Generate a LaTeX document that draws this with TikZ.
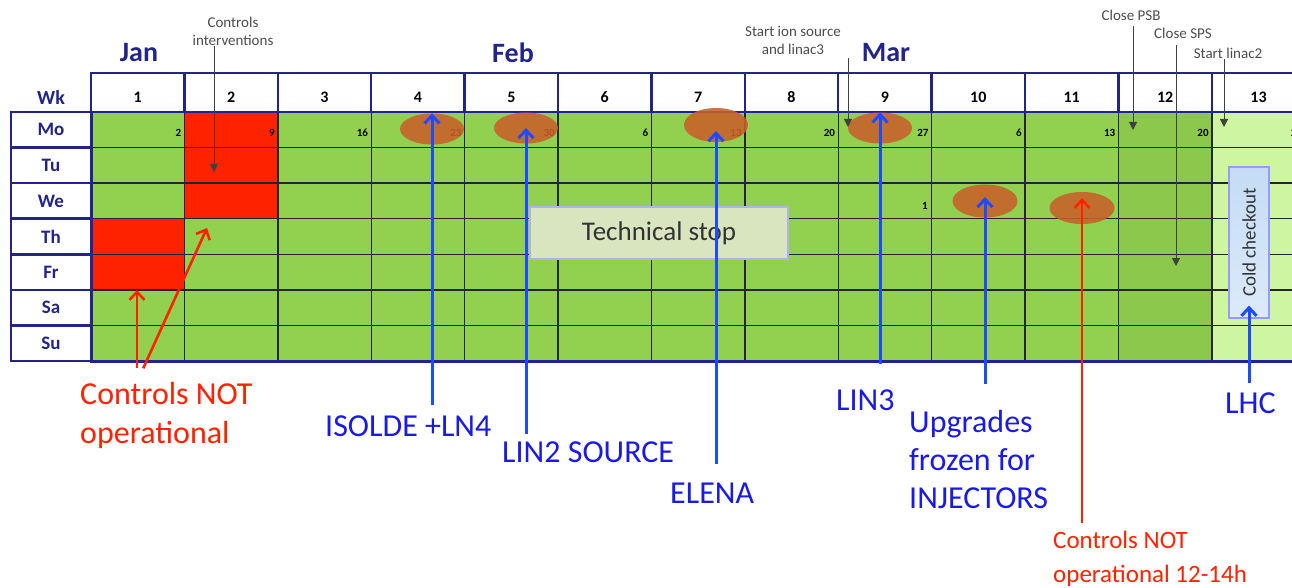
\documentclass[tikz,border=0pt]{standalone}
\usepackage{fontspec}
\setmainfont{Carlito}
\usetikzlibrary{arrows.meta,positioning,calc,shapes.geometric}
\definecolor{navy}{HTML}{23238C}
\definecolor{leaf}{HTML}{92D050}
\definecolor{leafdark}{HTML}{8BC84B}
\definecolor{leafpale}{HTML}{CDF5A2}
\definecolor{alarm}{HTML}{FF2200}
\definecolor{rust}{HTML}{C8602A}
\definecolor{ink}{HTML}{1A1AE8}
\definecolor{arrowblue}{HTML}{1E4BFF}
\definecolor{stopfill}{HTML}{D9E5BF}
\definecolor{coldfill}{HTML}{C4DCF6}
\tikzset{hdr/.style={draw=navy,line width=2.5pt,fill=white},
  cell/.style={draw=black!85,line width=1.4pt},
  spot/.style={ellipse,fill=rust,fill opacity=.88,inner sep=0pt,
    minimum width=64pt,minimum height=31pt},
  daynum/.style={anchor=east,font=\fontsize{11}{13}\selectfont\bfseries,inner sep=1pt},
  month/.style={text=navy,font=\fontsize{28}{32}\selectfont\bfseries},
  bluelbl/.style={text=ink,font=\fontsize{32}{38}\selectfont,align=left,inner sep=0pt},
  redlbl/.style={text=alarm,align=left,inner sep=0pt},
  note/.style={text=black!70,font=\fontsize{15}{18}\selectfont,align=center,inner sep=1pt},
  uparrow/.style={-{Straight Barb[length=8pt,width=15pt]},line width=3pt,draw=arrowblue},
  redarrow/.style={-{Straight Barb[length=8pt,width=15pt]},line width=2.6pt,draw=alarm},
  notearrow/.style={-{Triangle[length=8pt,width=8pt]},line width=1pt,draw=black!75}}

\begin{document}
\begin{tikzpicture}[x=1pt,y=-1pt]
\useasboundingbox (0,0) rectangle (1292,588);
% weeks x days
\foreach \w/\c in {1/leaf,2/leaf,3/leaf,4/leaf,5/leaf,6/leaf,7/leaf,8/leaf,9/leaf,10/leaf,11/leaf,12/leafdark,13/leafpale}{
  \foreach \r in {1,...,7}{
    \filldraw[cell,fill=\c] ({91+(\w-1)*93.4},{112+(\r-1)*35.57}) rectangle ({91+\w*93.4},{112+\r*35.57});}}
\foreach \w/\r in {2/1,2/2,2/3,1/4,1/5}{
  \filldraw[cell,fill=alarm] ({91+(\w-1)*93.4},{112+(\r-1)*35.57}) rectangle ({91+\w*93.4},{112+\r*35.57});}
\draw[navy,line width=3pt] (91,112) rectangle (1310,361);
\foreach \w in {1,...,13}{
  \filldraw[hdr] ({91+(\w-1)*93.4},73) rectangle ({91+\w*93.4},112);
  \node[font=\fontsize{16}{19}\selectfont\bfseries] (wk\w) at ({91+(\w-.5)*93.4},97) {\w};}
\foreach \d [count=\r] in {Mo,Tu,We,Th,Fr,Sa,Su}{
  \filldraw[hdr] (11,{112+(\r-1)*35.57}) rectangle (91,{112+\r*35.57});
  \node[text=navy,font=\fontsize{19}{22}\selectfont\bfseries] (day\r) at (51,{112+(\r-.5)*35.57}) {\d};}
\node[text=navy,font=\fontsize{20}{24}\selectfont\bfseries] (wklabel) at (51,97) {Wk};
\foreach \m/\x in {Jan/139,Feb/513,Mar/886}{\node[month] (\m) at (\x,53) {\m};}
\foreach \w/\n in {1/2,2/9,3/16,4/23,5/30,6/6,7/13,8/20,9/27,10/6,11/13,12/20,13/27}{
  \node[daynum] (num\w) at ({91+\w*93.4-2},133) {\n};}
\node[daynum] (numone) at (929,206) {1};
% milestones
\node[spot] (e4) at (432,129) {};
\node[spot] (e5) at (526,128) {};
\node[spot,minimum height=34pt] (e7) at (716,125) {};
\node[spot] (e9) at (880,128) {};
\node[spot,minimum width=65pt,minimum height=33pt] (e10) at (985,201) {};
\node[spot,minimum width=65pt,minimum height=32pt] (e11) at (1082,208) {};
\node[draw=black!35!blue!30,line width=1.2pt,fill=stopfill,minimum width=258pt,minimum height=52pt,
  text=black!80,font=\fontsize{27}{32}\selectfont] (tstop) at (659,233) {Technical stop};
\node[draw=blue!40,line width=1.2pt,left color=coldfill,right color=coldfill!60!white,shading angle=0,
  rotate=90,minimum width=151pt,minimum height=40pt,text=black!80,font=\fontsize{19}{22}\selectfont]
  (cold) at (1249,242.5) {Cold checkout};
% notes on top
\node[note] (ctrlint) at (233,31) {Controls\\interventions};
\node[note] (ionsrc) at (793,40) {Start ion source\\and linac3};
\node[note] (psb) at (1131,15) {Close PSB};
\node[note] (sps) at (1183,33) {Close SPS};
\node[note] (linac) at (1228,53) {Start linac2};
\coordinate (intTip) at (214,172);
\coordinate (ionTip) at (848,127);
\coordinate (psbTip) at (1133,130);
\coordinate (spsTip) at (1176,266);
\coordinate (linacTip) at (1224,127);
\draw[notearrow] (ctrlint.south -| intTip) -- (intTip);
\draw[notearrow,shorten <=3pt] (ionsrc.south -| ionTip) -- (ionTip);
\draw[notearrow,shorten <=5pt] (psb.south -| psbTip) -- (psbTip);
\draw[notearrow,shorten <=6pt] (sps.south -| spsTip) -- (spsTip);
\draw[notearrow] (linac.south -| linacTip) -- (linacTip);
% labels below
\node[bluelbl,anchor=base west] (isolde) at (325,436) {ISOLDE +LN4};
\node[bluelbl,anchor=base west] (lintwo) at (502,462) {LIN2 SOURCE};
\node[bluelbl,anchor=base west] (elena) at (670,503) {ELENA};
\node[bluelbl,anchor=base west] (linthree) at (836,410) {LIN3};
\node[bluelbl,anchor=north west] (upgr) at (909,410) {Upgrades\\frozen for\\INJECTORS};
\node[bluelbl,anchor=base west] (lhc) at (1225,413) {LHC};
\node[redlbl,anchor=north west,font=\fontsize{32}{39}\selectfont] (ctrlnote) at (80,382) {Controls NOT\\operational};
\node[redlbl,anchor=north west,font=\fontsize{25}{34}\selectfont] (ctrlnoon) at (1053,531) {Controls NOT\\operational 12-14h};
\coordinate (redfr) at (137,290);
\coordinate (redth) at (207,228);
\draw[uparrow,shorten <=10pt] (isolde.north -| e4) -- (e4.north);
\draw[uparrow,shorten <=7pt] (lintwo.north -| e5) -- (e5.center);
\draw[uparrow,shorten <=18pt] (elena.north -| e7) -- ($(e7.center)+(0,6)$);
\draw[uparrow,shorten <=25pt] (linthree.north -| e9) -- (e9.north);
\draw[uparrow,shorten <=26pt] (upgr.north -| e10) -- ($(e10.center)+(0,-4)$);
\draw[uparrow,shorten <=9pt] (lhc.north -| cold) -- ($(cold.west)+(0,-13)$);
\draw[redarrow,shorten <=8pt] (ctrlnoon.north -| e11) -- ($(e11.center)+(0,-10)$);
\draw[redarrow,shorten <=14pt] (ctrlnote.north -| redfr) -- (redfr);
\draw[redarrow,shorten <=15pt] (ctrlnote.north -| redfr) -- (redth);
\end{tikzpicture}
\end{document}
